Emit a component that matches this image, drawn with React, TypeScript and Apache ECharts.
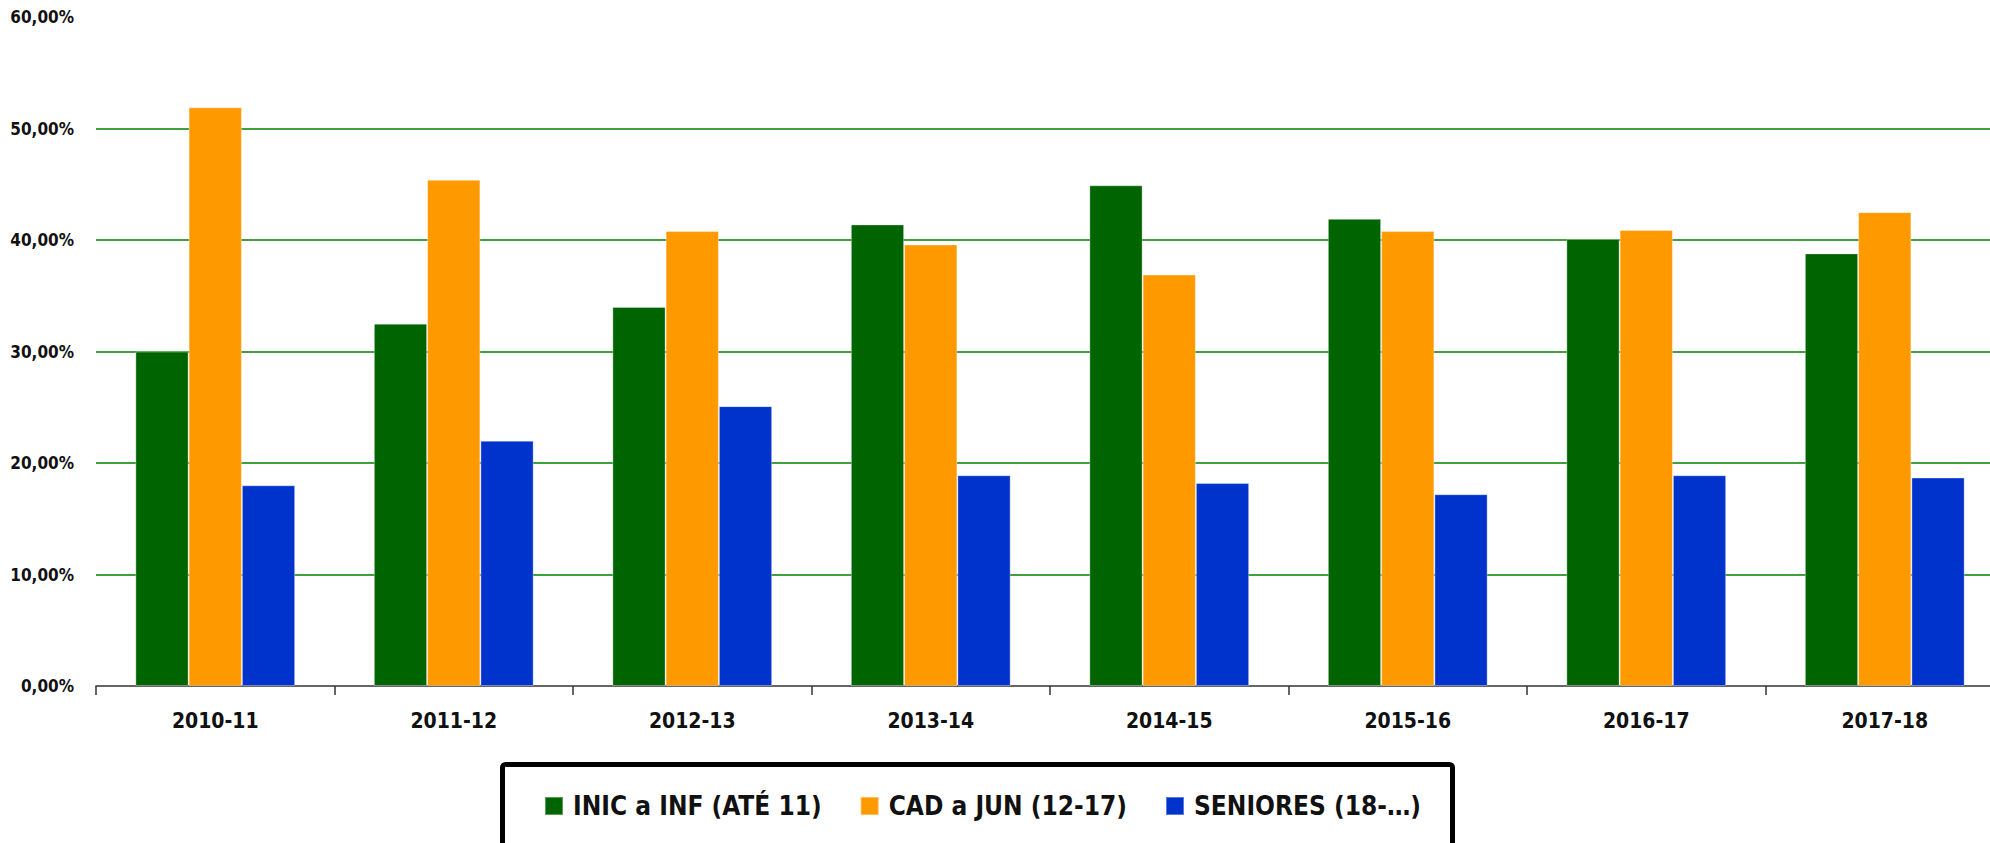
import React, { useEffect, useRef } from "react";
import * as echarts from "echarts";

const categories = ["2010-11", "2011-12", "2012-13", "2013-14", "2014-15", "2015-16", "2016-17", "2017-18"];
const seriesNames = ["INIC a INF (ATÉ 11)", "CAD a JUN (12-17)", "SENIORES (18-…)"];
const inicInf = [30.0, 32.5, 34.0, 41.4, 44.9, 41.9, 40.1, 38.8];
const cadJun = [51.9, 45.4, 40.8, 39.6, 36.9, 40.8, 40.9, 42.5];
const seniores = [18.0, 22.0, 25.1, 18.9, 18.2, 17.2, 18.9, 18.7];
const colors = ["#006400", "#FF9900", "#0033CC"];

const FONT = "'Liberation Sans Narrow', 'DejaVu Sans Condensed', 'Noto Sans', sans-serif";

export default function App() {
  const ref = useRef<HTMLDivElement>(null);
  useEffect(() => {
    if (!ref.current) return;
    const chart = echarts.init(ref.current, null, { renderer: "svg" });
    const mk = (name: string, data: number[], color: string) => ({
      name,
      type: "bar",
      data,
      barGap: "0%",
      barCategoryGap: "33%",
      itemStyle: { color, borderColor: "rgba(255,255,255,0.35)", borderWidth: 1 },
    });
    chart.setOption({
      animation: false,
      backgroundColor: "#ffffff",
      grid: { left: 96, right: -14, top: 17, bottom: 843 - 686, containLabel: false, outerBoundsMode: "none" },
      xAxis: {
        type: "category",
        data: categories,
        axisLine: { show: true, lineStyle: { color: "#333333", width: 1.5 } },
        axisTick: { show: true, alignWithLabel: false, length: 9, lineStyle: { color: "#333333", width: 1.5 } },
        axisLabel: { margin: 24, color: "#111111", fontFamily: FONT, fontWeight: "bold", fontSize: 21 },
        splitLine: { show: false },
      },
      yAxis: {
        type: "value",
        min: 0,
        max: 60,
        interval: 10,
        axisLine: { show: false },
        axisTick: { show: false },
        axisLabel: {
          margin: 22,
          color: "#111111",
          fontFamily: FONT,
          fontWeight: "bold",
          fontSize: 17,
          formatter: (v: number) => v.toFixed(2).replace(".", ",") + "%",
        },
        splitLine: {
          show: true,
          lineStyle: {
            color: ["rgba(0,0,0,0)", "#008000", "#008000", "#008000", "#008000", "#008000", "rgba(0,0,0,0)"],
            width: 1.5,
          },
        },
      },
      legend: {
        left: 544,
        top: 793,
        padding: 0,
        itemWidth: 18,
        itemHeight: 18,
        itemGap: 38,
        icon: "rect",
        data: seriesNames,
        textStyle: {
          color: "#111111",
          fontFamily: FONT,
          fontWeight: "bold",
          fontSize: 26,
          lineHeight: 18,
          padding: [0, 0, 0, 5],
        },
      },
      graphic: [
        {
          type: "rect",
          shape: { x: 502.5, y: 764.5, width: 950, height: 130, r: 3 },
          style: { fill: "none", stroke: "#000000", lineWidth: 5 },
          silent: true,
        },
      ],
      series: [
        mk(seriesNames[0], inicInf, colors[0]),
        mk(seriesNames[1], cadJun, colors[1]),
        mk(seriesNames[2], seniores, colors[2]),
      ],
    });
    return () => chart.dispose();
  }, []);
  return (
    <div
      ref={ref}
      style={{ position: "absolute", left: 0, top: 0, width: 1990, height: 843 }}
    />
  );
}
